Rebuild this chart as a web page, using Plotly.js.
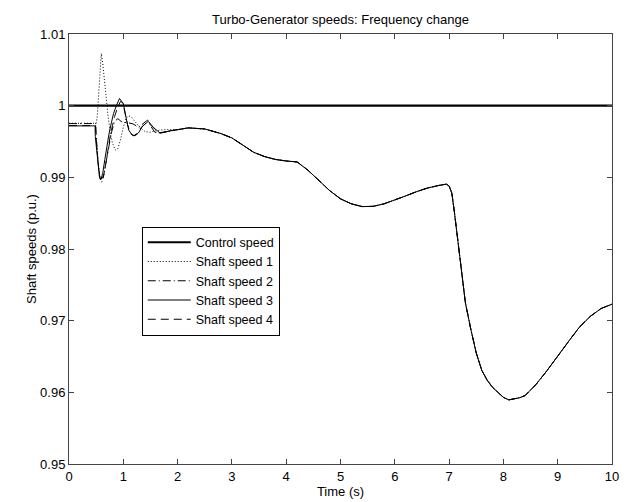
<!DOCTYPE html>
<html>
<head>
<meta charset="utf-8">
<script src="https://cdn.plot.ly/plotly-3.0.1.min.js"></script>
<style>html,body{margin:0;padding:0;background:#fff;}#chart{width:628px;height:502px;}</style>
</head>
<body>
<div id="chart"></div>
<script>
// ---- Data ----
var seriesNames = ["Control speed", "Shaft speed 1", "Shaft speed 2", "Shaft speed 3", "Shaft speed 4"];

// control speed (flat)
var controlT = [0, 10];
var controlV = [1.0, 1.0];

// common tail shared by all shaft speeds (t >= 2 s)
var tailT = [2.0, 2.2, 2.5, 2.8, 3.0, 3.2, 3.4, 3.6, 3.8, 4.0, 4.2, 4.4, 4.6, 4.8, 5.0, 5.2, 5.4, 5.6, 5.8, 6.0, 6.2, 6.4, 6.6, 6.8, 6.95, 7.0, 7.05, 7.1, 7.2, 7.3, 7.4, 7.5, 7.6, 7.7, 7.8, 7.9, 8.0, 8.1, 8.2, 8.3, 8.4, 8.6, 8.8, 9.0, 9.2, 9.4, 9.6, 9.8, 10.0];
var tailV = [0.99665, 0.99690, 0.99675, 0.99610, 0.99550, 0.99450, 0.99350, 0.99290, 0.99250, 0.99228, 0.99215, 0.99100, 0.98960, 0.98815, 0.98700, 0.98630, 0.98592, 0.98595, 0.98630, 0.98680, 0.98740, 0.98800, 0.98850, 0.98885, 0.98905, 0.98880, 0.98780, 0.98500, 0.97850, 0.97250, 0.96880, 0.96550, 0.96310, 0.96170, 0.96070, 0.96000, 0.95930, 0.95895, 0.95905, 0.95925, 0.95955, 0.96110, 0.96300, 0.96510, 0.96710, 0.96910, 0.97060, 0.97170, 0.97230];

// transient heads (t < 2 s)
var shaft1T = [0, 0.50, 0.52, 0.54, 0.56, 0.58, 0.595, 0.62, 0.65, 0.68, 0.72, 0.76, 0.80, 0.85, 0.90, 0.95, 1.00, 1.05, 1.10, 1.15, 1.22, 1.30, 1.40, 1.49, 1.60, 1.75, 1.90];
var shaft1V = [0.99755, 0.99755, 0.99850, 1.00100, 1.00450, 1.00680, 1.00730, 1.00600, 1.00350, 1.00100, 0.99850, 0.99620, 0.99480, 0.99380, 0.99400, 0.99530, 0.99700, 0.99820, 0.99860, 0.99840, 0.99780, 0.99700, 0.99640, 0.99629, 0.99650, 0.99665, 0.99665];

var shaft2T = [0, 0.49, 0.50, 0.53, 0.57, 0.60, 0.63, 0.66, 0.72, 0.78, 0.84, 0.90, 0.96, 1.02, 1.10, 1.18, 1.28, 1.36, 1.45, 1.50, 1.58, 1.70, 1.80, 1.90];
var shaft2V = [0.99750, 0.99750, 0.99600, 0.99250, 0.98990, 0.98930, 0.98990, 0.99120, 0.99380, 0.99620, 0.99780, 0.99820, 0.99780, 0.99765, 0.99760, 0.99745, 0.99700, 0.99750, 0.99800, 0.99720, 0.99630, 0.99620, 0.99640, 0.99655];

var shaft3T = [0, 0.48, 0.485, 0.51, 0.54, 0.56, 0.583, 0.62, 0.66, 0.70, 0.74, 0.78, 0.82, 0.87, 0.93, 0.97, 1.00, 1.06, 1.10, 1.16, 1.22, 1.28, 1.35, 1.46, 1.55, 1.68, 1.80, 1.90];
var shaft3V = [0.99718, 0.99718, 0.99567, 0.99350, 0.99120, 0.99010, 0.98963, 0.99050, 0.99250, 0.99450, 0.99620, 0.99760, 0.99890, 0.99995, 1.00100, 1.00060, 1.00030, 0.99800, 0.99660, 0.99590, 0.99581, 0.99620, 0.99710, 0.99782, 0.99700, 0.99615, 0.99640, 0.99655];

var shaft4T = [0, 0.49, 0.495, 0.52, 0.55, 0.60, 0.64, 0.68, 0.72, 0.76, 0.80, 0.84, 0.90, 0.95, 0.99, 1.03, 1.08, 1.13, 1.19, 1.25, 1.32, 1.44, 1.52, 1.65, 1.80, 1.90];
var shaft4V = [0.99722, 0.99722, 0.99580, 0.99330, 0.99100, 0.98980, 0.99030, 0.99200, 0.99400, 0.99580, 0.99720, 0.99850, 0.99985, 1.00060, 1.00040, 0.99900, 0.99730, 0.99620, 0.99580, 0.99610, 0.99690, 0.99770, 0.99720, 0.99620, 0.99640, 0.99655];

var yTickVals = [0.95, 0.96, 0.97, 0.98, 0.99, 1.00, 1.01];
var yTickText = ["0.95", "0.96", "0.97", "0.98", "0.99", "1", "1.01"];
var xTickVals = [0, 1, 2, 3, 4, 5, 6, 7, 8, 9, 10];
var xTickText = ["0", "1", "2", "3", "4", "5", "6", "7", "8", "9", "10"];

// ---- Build traces ----
var dashes = [null, "1px,2px", "8px,3px,1px,3px", "solid", "8px,5px"];
var heads = [null, [shaft1T, shaft1V], [shaft2T, shaft2V], [shaft3T, shaft3V], [shaft4T, shaft4V]];
var traces = [{
  x: controlT, y: controlV, type: "scatter", mode: "lines", name: seriesNames[0],
  line: {color: "#000", width: 2.2}
}];
for (var i = 1; i < 5; i++) {
  traces.push({
    x: heads[i][0].concat(tailT), y: heads[i][1].concat(tailV),
    type: "scatter", mode: "lines", name: seriesNames[i],
    line: {color: "#000", width: 1, dash: dashes[i]}
  });
}

var fnt = {family: "Liberation Sans, Arial, sans-serif", size: 13, color: "#000"};
var legFnt = {family: "Liberation Sans, Arial, sans-serif", size: 12.5, color: "#000"};
var axisCommon = {
  showline: true, linecolor: "#444", linewidth: 1, mirror: "ticks",
  ticks: "inside", ticklen: 5, tickcolor: "#444", tickwidth: 1,
  showgrid: false, zeroline: false, tickfont: fnt, fixedrange: true, automargin: false
};
var layout = {
  width: 628, height: 502,
  margin: {l: 69, r: 16, t: 34, b: 38, pad: 0},
  paper_bgcolor: "#fff", plot_bgcolor: "#fff",
  font: fnt,
  showlegend: true,
  title: {text: "Turbo-Generator speeds: Frequency change", font: fnt, x: 0.5, xref: "paper", xanchor: "center", y: 0.962, yref: "container", yanchor: "middle"},
  xaxis: Object.assign({}, axisCommon, {range: [0, 10], tickvals: xTickVals, ticktext: xTickText, title: {text: "Time (s)", font: fnt, standoff: 2}}),
  yaxis: Object.assign({}, axisCommon, {range: [0.95, 1.01], tickvals: yTickVals, ticktext: yTickText, title: {text: "Shaft speeds (p.u.)", font: fnt, standoff: 0}}),
  legend: {x: 0.134, y: 0.552, xanchor: "left", yanchor: "top", bgcolor: "#fff", bordercolor: "#000", borderwidth: 1, font: legFnt, tracegroupgap: 0, itemwidth: 43}
};
Plotly.newPlot("chart", traces, layout, {staticPlot: true, displayModeBar: false});
</script>
</body>
</html>
